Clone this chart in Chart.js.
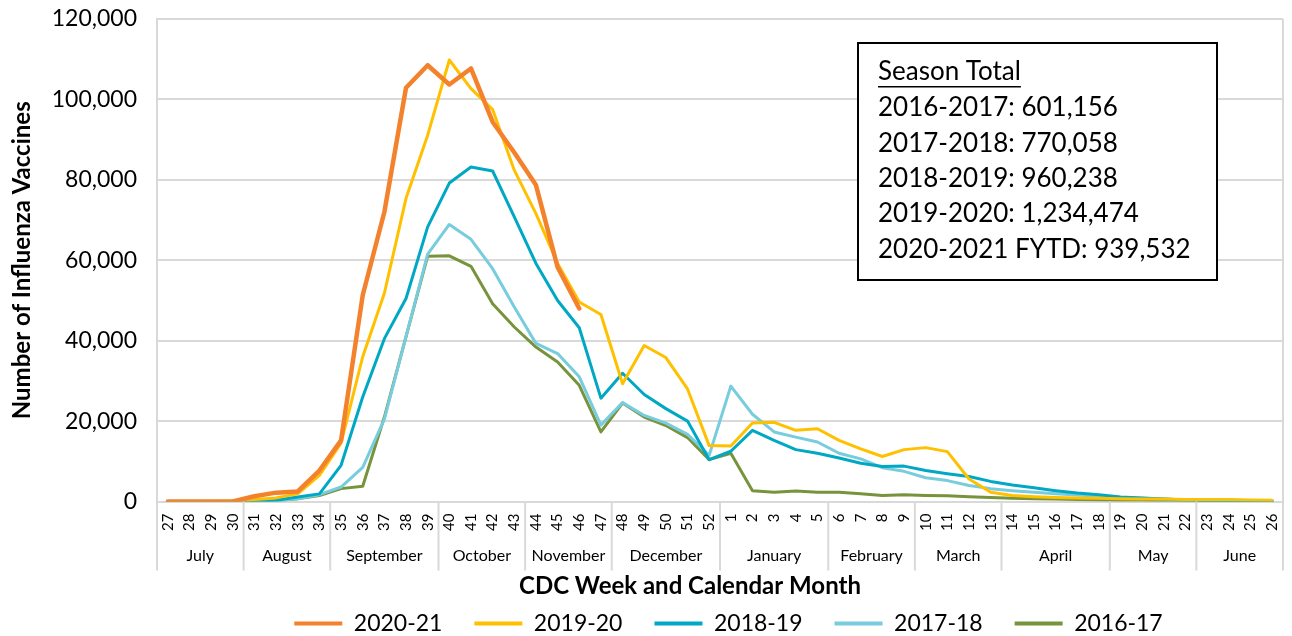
<!DOCTYPE html>
<html>
<head>
<meta charset="utf-8">
<script src="https://cdn.jsdelivr.net/npm/chart.js@4.4.0/dist/chart.umd.min.js"></script>
<style>
  html, body { margin: 0; padding: 0; background: #fff; }
  #wrap { width: 1292px; height: 636px; }
</style>
</head>
<body>
<div id="wrap"><canvas id="fluChart"></canvas></div>
<script>
// CDC weeks, July -> June
var weekLabels = ['27','28','29','30','31','32','33','34','35','36','37','38','39','40','41','42','43','44','45','46','47','48','49','50','51','52',
                  '1','2','3','4','5','6','7','8','9','10','11','12','13','14','15','16','17','18','19','20','21','22','23','24','25','26'];
var monthNames = ['July','August','September','October','November','December','January','February','March','April','May','June'];
var monthWeekCounts = [4, 4, 5, 4, 4, 5, 5, 4, 4, 5, 4, 4];

var season2020 = [0,0,0,0,1300,2200,2500,7700,15200,51300,72000,102900,108500,103700,107700,94400,86800,78700,58300,48000,
                  null,null,null,null,null,null,null,null,null,null,null,null,null,null,null,null,null,null,null,null,null,null,null,null,null,null,null,null,null,null,null,null];
var season2019 = [0,0,0,100,500,900,1900,6500,14500,36000,51800,75400,91100,109800,102700,97500,82400,71600,59200,49600,46500,29300,38800,35800,28000,13900,
                  13800,19500,19700,17700,18100,15200,13100,11200,12900,13400,12400,5600,2300,1500,1200,1000,900,800,700,600,600,500,500,500,400,300];
var season2018 = [0,0,0,0,100,300,1100,1900,9000,26000,40500,50500,68300,79200,83200,82200,70800,59200,50000,43200,25700,31900,26600,23100,20000,10400,
                  12500,17700,15200,12900,12000,10800,9500,8700,8800,7700,6900,6200,5000,4100,3400,2700,2100,1700,1100,900,600,400,250,150,100,100];
var season2017 = [0,0,0,0,0,200,700,1700,3600,8500,20500,41000,61500,68900,65200,57900,48400,39300,36800,31000,19000,24600,21400,19500,16700,11500,
                  28700,21700,17300,16000,14800,12000,10600,8400,7500,5900,5200,4000,3200,2700,2300,1900,1600,1300,1000,800,600,400,300,200,100,100];
var season2016 = [0,0,0,0,0,200,700,1500,3200,3800,21000,41000,61000,61100,58500,49200,43400,38400,34700,28900,17300,24500,21000,18900,15900,10400,
                  12000,2700,2300,2600,2300,2300,1900,1500,1700,1500,1400,1200,1000,800,700,600,500,400,300,300,200,200,200,200,100,100];

var totalLabels = ['2016-2017', '2017-2018', '2018-2019', '2019-2020', '2020-2021 FYTD'];
var totalValues = [601156, 770058, 960238, 1234474, 939532];

Chart.defaults.font.family = 'Lato, "Open Sans", sans-serif';
Chart.defaults.color = '#000';

// month names, separators and x title under the week ticks
const monthBands = {
  id: 'monthBands',
  afterDraw(chart) {
    const ctx = chart.ctx, xs = chart.scales.x, area = chart.chartArea;
    const last = weekLabels.length - 1;
    let start = 0;
    ctx.save();
    ctx.strokeStyle = '#d9d9d9';
    ctx.lineWidth = 2;
    // right edge of plot area
    ctx.beginPath();
    ctx.moveTo(area.right, area.top);
    ctx.lineTo(area.right, area.bottom);
    ctx.stroke();
    ctx.fillStyle = '#000';
    ctx.font = '16px Lato';
    ctx.textAlign = 'center';
    ctx.textBaseline = 'middle';
    monthNames.forEach(function (m, k) {
      const end = start + monthWeekCounts[k] - 1;
      const left = start === 0 ? xs.left : (xs.getPixelForValue(start - 1) + xs.getPixelForValue(start)) / 2;
      const right = end === last ? xs.right : (xs.getPixelForValue(end) + xs.getPixelForValue(end + 1)) / 2;
      ctx.beginPath();
      ctx.moveTo(left, area.bottom);
      ctx.lineTo(left, area.bottom + 69);
      if (end === last) {
        ctx.moveTo(right, area.bottom);
        ctx.lineTo(right, area.bottom + 69);
      }
      ctx.stroke();
      ctx.fillText(m, (left + right) / 2, area.bottom + 54);
      start = end + 1;
    });
    ctx.font = 'bold 24px Lato';
    ctx.fillText('CDC Week and Calendar Month', 690, area.bottom + 85);
    ctx.restore();
  }
};

// "Season Total" text box
const totalsBox = {
  id: 'totalsBox',
  afterDraw(chart) {
    const ctx = chart.ctx;
    const bx = 858, by = 43, bw = 359, bh = 237;
    ctx.save();
    ctx.fillStyle = '#fff';
    ctx.fillRect(bx, by, bw, bh);
    ctx.strokeStyle = '#000';
    ctx.lineWidth = 2;
    ctx.strokeRect(bx, by, bw, bh);
    ctx.fillStyle = '#000';
    ctx.font = '26px Lato';
    ctx.textAlign = 'left';
    ctx.textBaseline = 'middle';
    ctx.fillText('Season Total', bx + 20, 72);
    const w = ctx.measureText('Season Total').width;
    ctx.fillRect(bx + 20, 86, w, 1.5);
    totalLabels.forEach(function (lab, i) {
      ctx.fillText(lab + ': ' + totalValues[i].toLocaleString('en-US'), bx + 20, 108 + i * 35.3);
    });
    ctx.restore();
  }
};

// legend sits a little right of centre in the original
const legendShift = {
  id: 'legendShift',
  afterLayout(chart) {
    chart.legend.left += 83;
    chart.legend.right += 83;
  }
};

function line(label, values, color, width) {
  return {
    label: label,
    data: values,
    borderColor: color,
    backgroundColor: color,
    borderWidth: width,
    pointRadius: 0,
    pointHoverRadius: 0,
    tension: 0,
    fill: false,
    borderCapStyle: 'round',
    borderJoinStyle: 'round'
  };
}

var fluChart = new Chart(document.getElementById('fluChart'), {
  type: 'line',
  data: {
    labels: weekLabels,
    datasets: [
      line('2020-21', season2020, '#F4822C', 4.5),
      line('2019-20', season2019, '#FFC000', 3),
      line('2018-19', season2018, '#00A8C4', 3),
      line('2017-18', season2017, '#77CCDD', 3),
      line('2016-17', season2016, '#77933C', 3)
    ]
  },
  options: {
    responsive: true,
    maintainAspectRatio: false,
    animation: false,
    layout: { padding: { left: 8, right: 9, top: 19, bottom: -9 } },
    plugins: {
      tooltip: { enabled: false },
      legend: {
        position: 'bottom',
        labels: {
          usePointStyle: true,
          pointStyleWidth: 48,
          padding: 32,
          font: { size: 23 },
          color: '#000',
          generateLabels: function (chart) {
            return chart.data.datasets.map(function (ds, i) {
              return {
                text: ds.label,
                fillStyle: ds.borderColor,
                strokeStyle: ds.borderColor,
                lineWidth: 4,
                pointStyle: 'line',
                datasetIndex: i,
                hidden: false
              };
            });
          }
        }
      }
    },
    scales: {
      x: {
        offset: true,
        grid: { display: false, drawTicks: false },
        border: { display: true, color: '#d9d9d9', width: 2 },
        ticks: { autoSkip: false, minRotation: 90, maxRotation: 90, padding: 12, font: { size: 15 }, color: '#000' },
        afterFit: function (s) {
          s.height = 78.5;
          s.paddingLeft = 0;
          s.paddingRight = 0;
        }
      },
      y: {
        min: 0,
        max: 120000,
        grid: { color: '#d9d9d9', lineWidth: 2, drawTicks: false },
        border: { display: true, color: '#d9d9d9', width: 2 },
        ticks: {
          stepSize: 20000,
          padding: 20,
          font: { size: 23 },
          color: '#000',
          callback: function (v) { return v.toLocaleString('en-US'); }
        },
        title: {
          display: true,
          text: 'Number of Influenza Vaccines',
          font: { size: 24, weight: 'bold' },
          color: '#000',
          padding: { top: 0, bottom: 4 }
        },
        afterFit: function (s) {
          s.width = 149;
          s.paddingTop = 0;
          s.paddingBottom = 0;
        }
      }
    }
  },
  plugins: [monthBands, totalsBox, legendShift]
});
</script>
</body>
</html>
